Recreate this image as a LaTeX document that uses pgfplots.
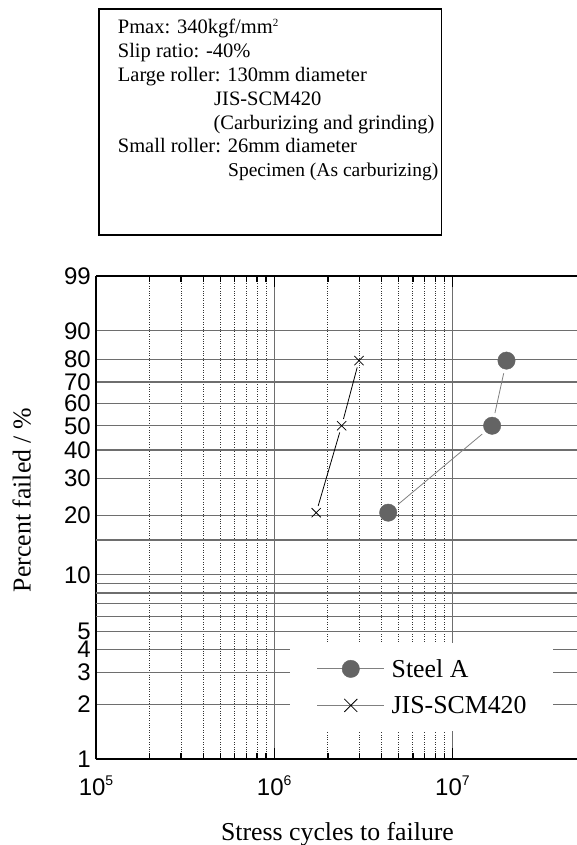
\documentclass[border=0pt]{standalone}
\usepackage{pgfplots}
\pgfplotsset{compat=1.18}
\usepackage{fontspec}
\setmainfont{Liberation Serif}
\newfontfamily\tickfont{Liberation Sans}
\definecolor{markgray}{RGB}{100,100,100}
\definecolor{gridgray}{RGB}{110,110,110}
\newcommand{\ex}[1]{\raisebox{10pt}{\fontsize{14}{14}\selectfont #1}}
\begin{document}
\begin{tikzpicture}[x=1pt,y=1pt]
\useasboundingbox (-96,-86) rectangle (481,759);
% info box
\draw[line width=1.2pt] (3,524) rectangle (345.7,750);
\begin{scope}[every node/.style={anchor=base west, inner sep=0pt, font=\fontsize{20.5}{24}\selectfont}]
\node at (21.7,725.5) {Pmax: 340kgf/mm\raisebox{7pt}{\fontsize{11}{11}\selectfont 2}};
\node at (21.7,701.6) {Slip ratio: -40\%};
\node at (21.7,677.7) {Large roller: 130mm diameter};
\node at (118,653.8) {JIS-SCM420};
\node at (117.3,629.9) {(Carburizing and grinding)};
\node at (21.7,606) {Small roller: 26mm diameter};
\node[font=\fontsize{19.5}{22}\selectfont] at (132,582.1) {Specimen (As carburizing)};
\end{scope}
\begin{axis}[
  at={(0,0)}, anchor=south west,
  scale only axis, width=481pt, height=483pt,
  xmode=log, xmin=1e5, xmax=5e7,
  ymin=1, ymax=99,
  y coord trafo/.code={\pgfmathparse{ln(-ln(1-#1/100))}},
  axis x line*=box, axis y line*=left,
  axis line style={line width=2pt, black},
  xtick={1e5,1e6,1e7},
  xticklabels={{10\ex{5}},{10\ex{6}},{10\ex{7}}},
  ytick={1,2,3,4,5,10,20,30,40,50,60,70,80,90,99},
  yticklabels={1,2,3,4,5,10,20,30,40,50,60,70,80,90,99},
  extra y ticks={6,7,8,9,15},
  extra y tick labels={},
  extra y tick style={ytick style={draw=none}},
  ytick style={draw=none},
  xtick style={black, line width=1.3pt},
  tick align=inside,
  major tick length=11pt, minor tick length=6pt,
  xmajorgrids, xminorgrids, ymajorgrids,
  major grid style={solid, gridgray, line width=1.2pt},
  minor grid style={dotted, black!80, line width=0.9pt},
  ticklabel style={font=\tickfont\fontsize{24}{24}\selectfont},
  xticklabel style={inner sep=0pt, yshift=-17pt},
  yticklabel style={inner sep=0pt, xshift=-5pt},
  legend style={at={(rel axis cs:0.4033,0.2402)}, anchor=north west,
    draw=none, fill=white, inner xsep=26.7pt, inner ysep=16pt,
    font=\fontsize{25.8}{30}\selectfont, row sep=17.5pt,
    column sep=7pt, nodes={inner sep=0pt}},
  legend cell align=left,
]
\addplot[forget plot, gray, line width=0.8pt, shorten <=13pt, shorten >=13pt] coordinates {(4.36e6,20.63) (1.67e7,50)};
\addplot[forget plot, gray, line width=0.8pt, shorten <=13pt, shorten >=13pt] coordinates {(1.67e7,50) (2.01e7,79.37)};
\addplot[forget plot, black, line width=0.8pt, shorten <=7pt, shorten >=7pt] coordinates {(1.72e6,20.63) (2.39e6,50)};
\addplot[forget plot, black, line width=0.8pt, shorten <=7pt, shorten >=7pt] coordinates {(2.39e6,50) (2.99e6,79.37)};
\addplot[only marks, mark=*, mark size=8.7pt, color=markgray,
  legend image code/.code={\draw[gray, line width=0.8pt] (0pt,0pt)--(67pt,0pt); \fill[markgray] (33.5pt,0pt) circle (8.7pt);}]
  coordinates {(4.36e6,20.63) (1.67e7,50) (2.01e7,79.37)};
\addlegendentry{Steel A}
\addplot[only marks, mark=x, mark size=6.5pt, color=black, line width=0.8pt,
  legend image code/.code={\draw[gray, line width=0.8pt] (0pt,0pt)--(67pt,0pt); \draw[black, line width=0.8pt] (27pt,-6.5pt)--(40pt,6.5pt) (27pt,6.5pt)--(40pt,-6.5pt);}]
  coordinates {(1.72e6,20.63) (2.39e6,50) (2.99e6,79.37)};
\addlegendentry{JIS-SCM420}
\end{axis}
\node[anchor=base, inner sep=0pt, font=\fontsize{25.8}{30}\selectfont] at (241.5,-81) {Stress cycles to failure};
\node[anchor=base, rotate=90, inner sep=0pt, font=\fontsize{25.8}{30}\selectfont] at (-65.3,259) {Percent failed / \%};
\end{tikzpicture}
\end{document}
